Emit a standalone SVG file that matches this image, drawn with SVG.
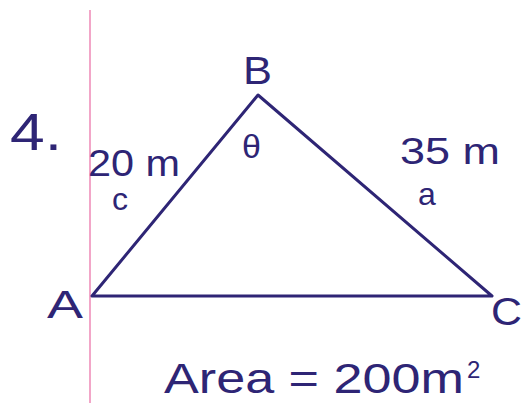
<svg xmlns="http://www.w3.org/2000/svg" width="526" height="403" viewBox="0 0 526 403">
<style>
text{font-family:"Liberation Sans",Arial,sans-serif;fill:#2e2575;}
.edge{stroke:#2e2575;stroke-width:3;fill:none;stroke-linecap:round;stroke-linejoin:round;}
</style>
<rect width="526" height="403" fill="#ffffff"/>
<line x1="90" y1="10" x2="90" y2="403" stroke="#f2a6c8" stroke-width="2"/>
<text x="10" y="150" font-size="52" textLength="52" lengthAdjust="spacingAndGlyphs">4.</text>
<g id="connectors">
<polyline class="edge" points="92,296 258,95 492,296 92,296"/>
</g>
<g id="B"><text x="243" y="84" font-size="38" textLength="29" lengthAdjust="spacingAndGlyphs">B</text></g>
<g id="A"><text x="47" y="318" font-size="38" textLength="36" lengthAdjust="spacingAndGlyphs">A</text></g>
<g id="C"><text x="491" y="325" font-size="38" textLength="31" lengthAdjust="spacingAndGlyphs">C</text></g>
<text x="242" y="158" font-size="34">θ</text>
<text x="88" y="176" font-size="36" textLength="92" lengthAdjust="spacingAndGlyphs">20 m</text>
<text x="112" y="210" font-size="32">c</text>
<text x="400" y="164" font-size="36" textLength="100" lengthAdjust="spacingAndGlyphs">35 m</text>
<text x="418" y="205" font-size="32">a</text>
<text x="164" y="393" font-size="42" textLength="300" lengthAdjust="spacingAndGlyphs">Area = 200m</text>
<text x="467" y="378" font-size="24">2</text>
</svg>
